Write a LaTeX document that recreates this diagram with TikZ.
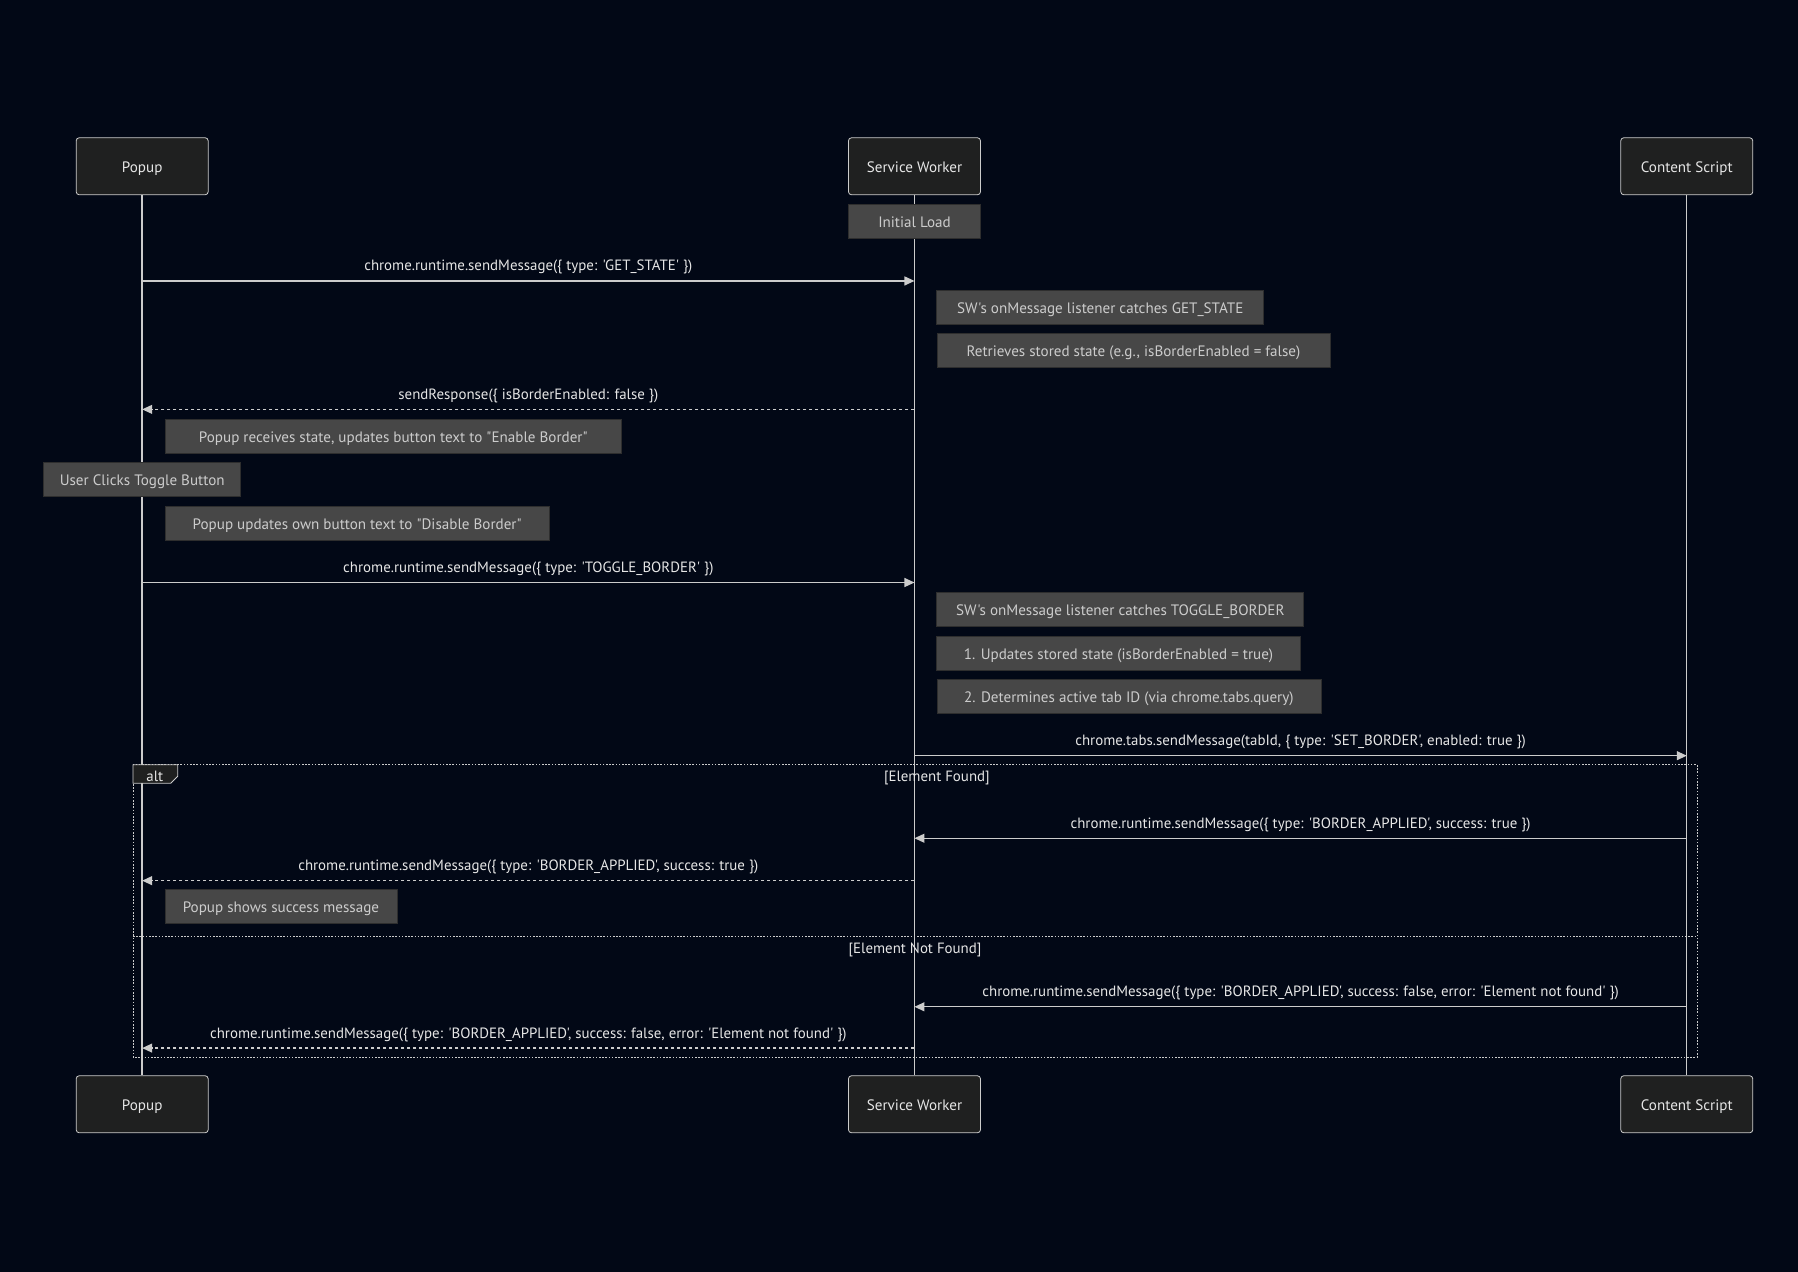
\documentclass[tikz,border=0pt]{standalone}
\usepackage{fontspec}
\setmainfont{PT Sans}[Ligatures=TeXOff]
\usetikzlibrary{arrows.meta}
\definecolor{bgC}{HTML}{020816}
\definecolor{actF}{HTML}{1F2020}
\definecolor{lineC}{HTML}{CCCCCC}
\definecolor{noteF}{HTML}{474747}
\definecolor{noteD}{HTML}{2E2E2E}
\definecolor{noteT}{HTML}{CCCCCC}
\definecolor{msgT}{HTML}{E6E6E6}
\newcommand{\txtfont}{\fontsize{14.9}{17}\selectfont}
\newcommand{\notefont}{\fontsize{15.1}{17}\selectfont}
\begin{document}
\begin{tikzpicture}[x=1.1467pt,y=-1.1467pt,
  actor/.style={draw=lineC, fill=actF, rounded corners=3pt, minimum width=132pt, minimum height=57pt, inner sep=0pt, text=msgT, font=\notefont, line width=0.8pt, text height=13.5pt, text depth=1.5pt},
  note/.style={draw=noteD, fill=noteF, minimum height=34pt, inner sep=0pt, text=noteT, font=\notefont, line width=0.8pt, text height=13.5pt, text depth=1.5pt},
  msg/.style={draw=lineC, line width=1.2pt, -{Triangle[length=10pt,width=9pt]}},
  reply/.style={msg, dash pattern=on 3pt off 3pt},
  lbl/.style={text=msgT, font=\txtfont, anchor=base, yshift=10pt, inner sep=0pt},
  life/.style={draw=lineC, line width=1.4pt},
  frame/.style={draw=lineC, line width=1pt, dash pattern=on 1.6pt off 1.6pt},
  grd/.style={text=msgT, font=\txtfont, inner sep=0pt, text height=13.5pt, text depth=1.5pt}
]
\fill[bgC] (0,0) rectangle (1568,1109);
% actors
\node[actor] (pt) at (124,145) {Popup};
\node[actor] (st) at (797.5,145) {Service Worker};
\node[actor] (ct) at (1471,145) {Content Script};
\node[actor] (pb) at (124,963) {Popup};
\node[actor] (sb) at (797.5,963) {Service Worker};
\node[actor] (cb) at (1471,963) {Content Script};
% lifelines
\draw[life] (pt) -- (pb);
\draw[life] (st) -- (sb);
\draw[life] (ct) -- (cb);
% alt frame
\coordinate (fa) at (116,667);
\coordinate (fb) at (1480,922);
\draw[frame] (fa) rectangle (fb);
\coordinate (sepa) at (116,817);
\coordinate (sepb) at (1480,817);
\draw[frame] (sepa) -- (sepb);
\draw[draw=lineC, fill=actF, line width=0.8pt] (116,667) -- (155,667) -- (155,677) -- (149,683) -- (116,683) -- cycle;
\node[grd] (altl) at (135,676) {alt};
\node[grd] (g1) at (817,676) {[Element Found]};
\node[grd] (g2) at (798,826) {[Element Not Found]};
% notes
\node[note, minimum width=132pt] (n0) at (797.5,193.5) {Initial Load};
\node[note, minimum width=327pt] (n1) at (959.5,268) {SW's onMessage listener catches GET\_STATE};
\node[note, minimum width=393pt] (n2) at (988.5,306) {Retrieves stored state (e.g., isBorderEnabled = false)};
\node[note, minimum width=456pt] (n3) at (343,381) {Popup receives state, updates button text to "Enable Border"};
\node[note, minimum width=197pt] (n4) at (124,418.5) {User Clicks Toggle Button};
\node[note, minimum width=384pt] (n5) at (311.5,456.5) {Popup updates own button text to "Disable Border"};
\node[note, minimum width=367pt] (n6) at (977,531.5) {SW's onMessage listener catches TOGGLE\_BORDER};
\node[note, minimum width=363.5pt] (n7) at (975.5,569.5) {1. Updates stored state (isBorderEnabled = true)};
\node[note, minimum width=384pt] (n8) at (984.5,607.5) {2. Determines active tab ID (via chrome.tabs.query)};
\node[note, minimum width=232pt] (n9) at (245,790.5) {Popup shows success message};
% message anchors
\coordinate (p1) at (124,245);   \coordinate (s1) at (797.5,245);
\coordinate (p2) at (124,357);   \coordinate (s2) at (797.5,357);
\coordinate (p3) at (124,508);   \coordinate (s3) at (797.5,508);
\coordinate (s4) at (797.5,659); \coordinate (c4) at (1471,659);
\coordinate (s5) at (797.5,731); \coordinate (c5) at (1471,731);
\coordinate (p6) at (124,768);   \coordinate (s6) at (797.5,768);
\coordinate (s7) at (797.5,878); \coordinate (c7) at (1471,878);
\coordinate (p8) at (124,914);   \coordinate (s8) at (797.5,914);
% messages
\draw[msg] (p1) -- node[lbl] {chrome.runtime.sendMessage(\{ type: 'GET\_STATE' \})} (s1);
\draw[reply] (s2) -- node[lbl] {sendResponse(\{ isBorderEnabled: false \})} (p2);
\draw[msg] (p3) -- node[lbl] {chrome.runtime.sendMessage(\{ type: 'TOGGLE\_BORDER' \})} (s3);
\draw[msg] (s4) -- node[lbl] {chrome.tabs.sendMessage(tabId, \{ type: 'SET\_BORDER', enabled: true \})} (c4);
\draw[msg] (c5) -- node[lbl] {chrome.runtime.sendMessage(\{ type: 'BORDER\_APPLIED', success: true \})} (s5);
\draw[reply] (s6) -- node[lbl] {chrome.runtime.sendMessage(\{ type: 'BORDER\_APPLIED', success: true \})} (p6);
\draw[msg] (c7) -- node[lbl] {chrome.runtime.sendMessage(\{ type: 'BORDER\_APPLIED', success: false, error: 'Element not found' \})} (s7);
\draw[reply] (s8) -- node[lbl] {chrome.runtime.sendMessage(\{ type: 'BORDER\_APPLIED', success: false, error: 'Element not found' \})} (p8);
\end{tikzpicture}
\end{document}
